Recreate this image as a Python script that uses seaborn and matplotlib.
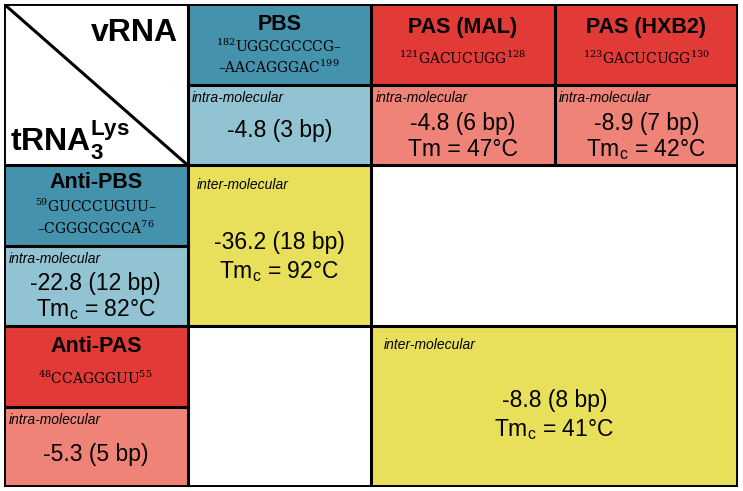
import numpy as np
import matplotlib.pyplot as plt
from matplotlib.colors import ListedColormap
import seaborn as sns

sns.set_style("white")
plt.rcParams["font.family"] = ["Liberation Sans", "DejaVu Sans"]
plt.rcParams["text.color"] = "black"
plt.rcParams["mathtext.fontset"] = "custom"
plt.rcParams["mathtext.rm"] = "DejaVu Serif"
plt.rcParams["mathtext.sf"] = "Liberation Sans"
plt.rcParams["mathtext.bf"] = "Liberation Sans:bold"

# column headers (vRNA)
col_labels = ["PBS", "PAS (MAL)", "PAS (HXB2)"]
col_seqs = [["$^{182}$UGGCGCCCG\u2013", "\u2013AACAGGGAC$^{199}$"],
            ["$^{121}$GACUCUGG$^{128}$"],
            ["$^{123}$GACUCUGG$^{130}$"]]
col_intra = [["-4.8 (3 bp)"],
             ["-4.8 (6 bp)", "Tm = 47°C"],
             ["-8.9 (7 bp)", "Tm$_\\mathsf{c}$ = 42°C"]]

# row headers (tRNA)
row_labels = ["Anti-PBS", "Anti-PAS"]
row_seqs = [["$^{59}$GUCCCUGUU\u2013", "\u2013CGGGCGCCA$^{76}$"],
            ["$^{48}$CCAGGGUU$^{55}$"]]
row_intra = [["-22.8 (12 bp)", "Tm$_\\mathsf{c}$ = 82°C"],
             ["-5.3 (5 bp)"]]

# inter-molecular duplexes
inter_vals = [["-36.2 (18 bp)", "Tm$_\\mathsf{c}$ = 92°C"],
              ["-8.8 (8 bp)", "Tm$_\\mathsf{c}$ = 41°C"]]

# 0 white, 1 dark teal, 2 light blue, 3 red, 4 salmon, 5 yellow
cell_codes = np.array([
    [0, 1, 3, 3],
    [0, 2, 4, 4],
    [1, 5, 0, 0],
    [2, 5, 0, 0],
    [3, 0, 5, 5],
    [4, 0, 5, 5],
])
palette = ["#ffffff", "#4592ac", "#92c3d2", "#e23a36", "#f08378", "#e8e05a"]

fig = plt.figure(figsize=(7.43, 4.91), dpi=100)
ax = fig.add_axes([4 / 743, 4 / 491, 734 / 743, 483 / 491])
sns.heatmap(cell_codes, cmap=ListedColormap(palette), vmin=-0.5, vmax=5.5,
            cbar=False, xticklabels=False, yticklabels=False, ax=ax)

# grid lines
lw = 2.2
k = dict(color="black", lw=lw, solid_capstyle="projecting", zorder=3)
ax.plot([0, 4, 4, 0, 0], [0, 0, 6, 6, 0], color="black", lw=2.8, zorder=4)
for x in [1, 2]:
    ax.plot([x, x], [0, 6], **k)
ax.plot([3, 3], [0, 2], **k)
for y in [2, 4]:
    ax.plot([0, 4], [y, y], **k)
ax.plot([1, 4], [1, 1], **k)
ax.plot([0, 1], [3, 3], **k)
ax.plot([0, 1], [5, 5], **k)
ax.plot([0, 1], [0, 2], color="black", lw=lw, zorder=3)

# corner labels
ax.text(0.95, 0.36, "vRNA", ha="right", va="center", fontsize=23, fontweight="bold")
ax.text(0.03, 1.82, "tRNA$_\\mathbf{3}^\\mathbf{Lys}$", ha="left", va="baseline",
        fontsize=23, fontweight="bold")

title_y = [[0.25, 0.52, 0.79], [0.29, 0.67], [0.29, 0.67]]
intra_y = [[1.57], [1.48, 1.81], [1.48, 1.81]]
for i, lab in enumerate(col_labels):
    cx = i + 1.5
    ax.text(cx, title_y[i][0], lab, ha="center", va="center", fontsize=15.5, fontweight="bold")
    for s, y in zip(col_seqs[i], title_y[i][1:]):
        ax.text(cx, y, s, ha="center", va="center", fontsize=10, family="DejaVu Serif")
    ax.text(i + 1.025, 1.17, "intra-molecular", ha="left", va="center", fontsize=10, style="italic")
    for s, y in zip(col_intra[i], intra_y[i]):
        ax.text(cx, y, s, ha="center", va="center", fontsize=16.5)

row_title_y = [[2.22, 2.51, 2.79], [4.25, 4.65]]
row_intra_y = [[3.47, 3.80], [5.60]]
for j, lab in enumerate(row_labels):
    top = 2 * j + 2
    ax.text(0.5, row_title_y[j][0], lab, ha="center", va="center", fontsize=15.5, fontweight="bold")
    for s, y in zip(row_seqs[j], row_title_y[j][1:]):
        ax.text(0.5, y, s, ha="center", va="center", fontsize=10, family="DejaVu Serif")
    ax.text(0.025, top + 1.17, "intra-molecular", ha="left", va="center", fontsize=10, style="italic")
    for s, y in zip(row_intra[j], row_intra_y[j]):
        ax.text(0.5, y, s, ha="center", va="center", fontsize=16.5)

# inter-molecular cells
inter_pos = [(1.05, 2.25, 1.5, [2.96, 3.32]), (2.07, 4.24, 3.0, [4.92, 5.29])]
for (lx, ly, cx, ys), vals in zip(inter_pos, inter_vals):
    ax.text(lx, ly, "inter-molecular", ha="left", va="center", fontsize=10, style="italic")
    for s, y in zip(vals, ys):
        ax.text(cx, y, s, ha="center", va="center", fontsize=16.5)

ax.set_xlim(0, 4)
ax.set_ylim(6, 0)
ax.axis("off")
fig.savefig("out.png", dpi=100)
